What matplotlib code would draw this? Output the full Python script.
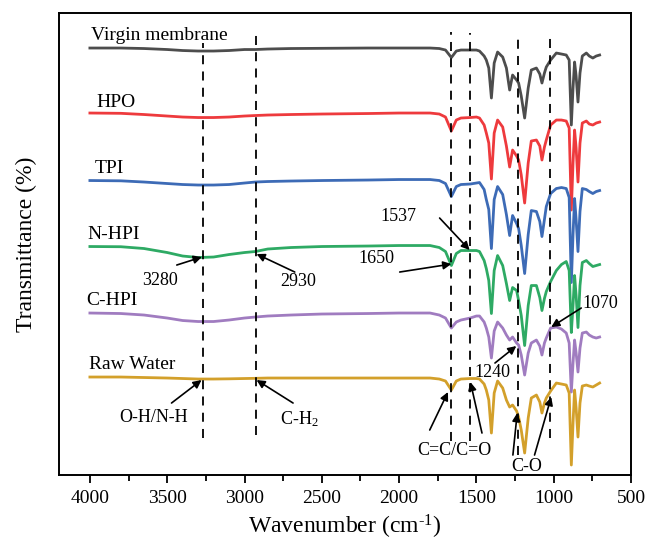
import matplotlib
matplotlib.use("Agg")
import matplotlib.pyplot as plt

plt.rcParams['font.family'] = ['Liberation Serif', 'DejaVu Serif']
plt.rcParams['mathtext.fontset'] = 'custom'
plt.rcParams['mathtext.rm'] = 'Liberation Serif'
plt.rcParams['mathtext.it'] = 'Liberation Serif:italic'

# wavenumber grid (cm-1)
wn = [4000, 3800, 3650, 3500, 3400, 3300, 3200, 3100, 3000, 2930, 2850, 2700, 2500,
      2200, 2000, 1800, 1740, 1700, 1662, 1630, 1600, 1540, 1500, 1480, 1450, 1436,
      1420, 1403, 1385, 1363, 1330, 1306, 1285, 1266, 1240, 1227, 1210, 1188, 1165,
      1145, 1112, 1090, 1076, 1060, 1048, 1020, 983, 950, 919, 900, 886, 875, 865,
      855, 843, 830, 815, 789, 770, 747, 725, 703]

# absorption depth below each trace's baseline (a.u.)
virgin = [0, 0, 0.5, 1.5, 2.5, 3, 3, 2.5, 1.5, 1.5, 1, 0.5, 0.3,
          0, 0, 0, 0.5, 2, 9.5, 3, 2, 2, 2, 3, 8, 12,
          20, 50, 15, 4, 9, 20, 42, 27, 32, 35, 48, 70, 40,
          22, 20, 26, 35, 25, 19, 12, 5, 6, 7, 12, 77, 40, 14,
          28, 54, 25, 8, 5, 8, 10, 8, 7]
hpo = [0, 0.3, 1.5, 3, 4, 4.5, 4.5, 4, 3, 2.5, 2, 1.5, 1,
       0.5, 0, 0, 1, 4, 18, 7, 5, 4.5, 4, 5, 12, 20,
       30, 66, 20, 7, 14, 33, 54, 37, 43, 47, 62, 90, 50,
       28, 27, 33, 47, 34, 27, 12, 7, 7, 8, 15, 97, 50, 17,
       35, 69, 30, 10, 8, 11, 12, 10, 9]
tpi = [1, 1.3, 2.5, 4, 5, 5.5, 5.5, 5, 3.5, 2.5, 2, 1.5, 1,
       0.5, 0, 0, 1, 4, 17, 7, 5, 4.5, 3.5, 3, 10, 20,
       30, 69, 20, 7, 15, 35, 56, 36, 44, 49, 66, 94, 55,
       31, 32, 42, 57, 40, 27, 14, 9, 8, 9, 18, 103, 55, 19,
       40, 72, 32, 9, 10, 12, 14, 12, 11]
nhpi = [1, 1.2, 3, 7, 10.5, 12, 11.5, 9, 7, 6, 3.5, 2, 1,
        0.5, 0, 0, 2, 6, 20, 8, 5, 5, 5, 6, 15, 23,
        35, 68, 25, 10, 20, 38, 55, 42, 45, 55, 70, 100, 60,
        40, 40, 52, 65, 53, 46, 36, 25, 19, 16, 25, 87, 60, 30,
        50, 82, 40, 17, 15, 18, 21, 20, 19]
chpi = [0, 0.5, 2, 5, 7.5, 8.5, 8.5, 7, 5, 4, 3, 2, 1,
        0.5, 0, 0, 2, 5, 15, 9, 7, 5, 3, 3, 9, 15,
        24, 45, 18, 9, 15, 22, 27, 24, 30, 32, 42, 62, 40,
        30, 27, 33, 42, 30, 25, 15, 14, 16, 20, 30, 79, 50, 27,
        40, 59, 35, 20, 19, 22, 24, 25, 24]
raw = [-1, -1, -0.5, 0, 0.5, 1, 1, 0.8, 0.5, 0.3, 0, 0, 0,
       0, 0, 0, 1, 3, 12, 3, 1, 0.5, 0.5, 1, 6, 12,
       22, 55, 15, 3, 10, 22, 29, 27, 33, 39, 52, 75, 40,
       20, 17, 24, 35, 25, 20, 13, 5, 6, 7, 15, 87, 45, 12,
       30, 59, 25, 8, 7, 8, 9, 7, 5]

names = ['Virgin membrane', 'HPO', 'TPI', 'N-HPI', 'C-HPI', 'Raw Water']
series = [virgin, hpo, tpi, nhpi, chpi, raw]
offsets = [427, 362, 295.5, 229.5, 162, 97]
colors = ['#4d4d4d', '#ee3a3d', '#3d6bb6', '#2eaa64', '#a07cc0', '#d3a02b']
label_pos = [(3994, 440), (3961, 373), (3968, 307), (4017, 241), (4021, 175), (4005, 111)]

# marked bands: dashed guide lines
bands = [3270, 2927, 1662, 1544, 1233, 1022]
band_spans = [(37, 432), (40, 443), (34, 443), (34, 442), (20, 440), (37, 440)]

fig = plt.figure(figsize=(6.46, 5.45), dpi=100)
ax = fig.add_axes([0.0913, 0.1284, 0.8855, 0.8477])

for vals, off, col in zip(series, offsets, colors):
    ax.plot(wn, [off - v for v in vals], color=col, lw=2.0, solid_joinstyle='round')

for name, (x, y) in zip(names, label_pos):
    ax.text(x, y, name, fontsize=14, ha='left', va='center')

for b, (y0, y1) in zip(bands, band_spans):
    ax.plot([b, b], [y0, y1], color='black', lw=1.3, ls=(0, (5, 4)))

arrow = dict(arrowstyle='-|>', color='black', lw=1.2, mutation_scale=12,
             shrinkA=0, shrinkB=0)

# (text, text position, tail, tip)
notes = [
    ('3280', (3548, 195), (3438, 210), (3276, 218)),
    ('2930', (2655, 194), (2675, 203), (2922, 221)),
    ('O-H/N-H', (3586, 58), (3472, 72), (3278, 95)),
    ('C-H$_2$', (2646, 56), (2686, 72), (2922, 95)),
    ('1537', (2003, 259), (1738, 257), (1544, 225)),
    ('1650', (2145, 217), (1996, 203), (1662, 211)),
    ('1240', (1395, 103), (1380, 112), (1242, 129)),
]
for txt, tpos, tail, tip in notes:
    ax.text(tpos[0], tpos[1], txt, fontsize=13, ha='center', va='center')
    ax.annotate('', xy=tip, xytext=tail, arrowprops=arrow)

ax.text(813, 172, '1070', fontsize=13, ha='left', va='center')
ax.annotate('', xy=(1016, 148), xytext=(822, 167), arrowprops=arrow)

ax.text(1641, 25, 'C=C/C=O', fontsize=13, ha='center', va='center')
ax.annotate('', xy=(1684, 83), xytext=(1802, 45), arrowprops=arrow)
ax.annotate('', xy=(1539, 93), xytext=(1464, 42), arrowprops=arrow)

ax.text(1175, 9, 'C-O', fontsize=13, ha='center', va='center')
ax.annotate('', xy=(1236, 62), xytext=(1264, 20), arrowprops=arrow)
ax.annotate('', xy=(1016, 78), xytext=(1124, 20), arrowprops=arrow)

ax.set_xlim(4200, 500)
ax.set_ylim(0, 462)
ax.set_xticks([4000, 3500, 3000, 2500, 2000, 1500, 1000, 500])
ax.set_xticks([3750, 3250, 2750, 2250, 1750, 1250, 750], minor=True)
ax.set_yticks([])
ax.tick_params(axis='x', which='major', direction='out', length=6, width=1.3, labelsize=14, pad=5)
ax.tick_params(axis='x', which='minor', direction='out', length=4, width=1.3)
for s in ax.spines.values():
    s.set_linewidth(1.4)

ax.set_xlabel('Wavenumber (cm$^{\\text{-}1}$)', fontsize=17, labelpad=4)
ax.set_ylabel('Transmittance (%)', fontsize=17, labelpad=16)

fig.savefig('out.png', dpi=100)
